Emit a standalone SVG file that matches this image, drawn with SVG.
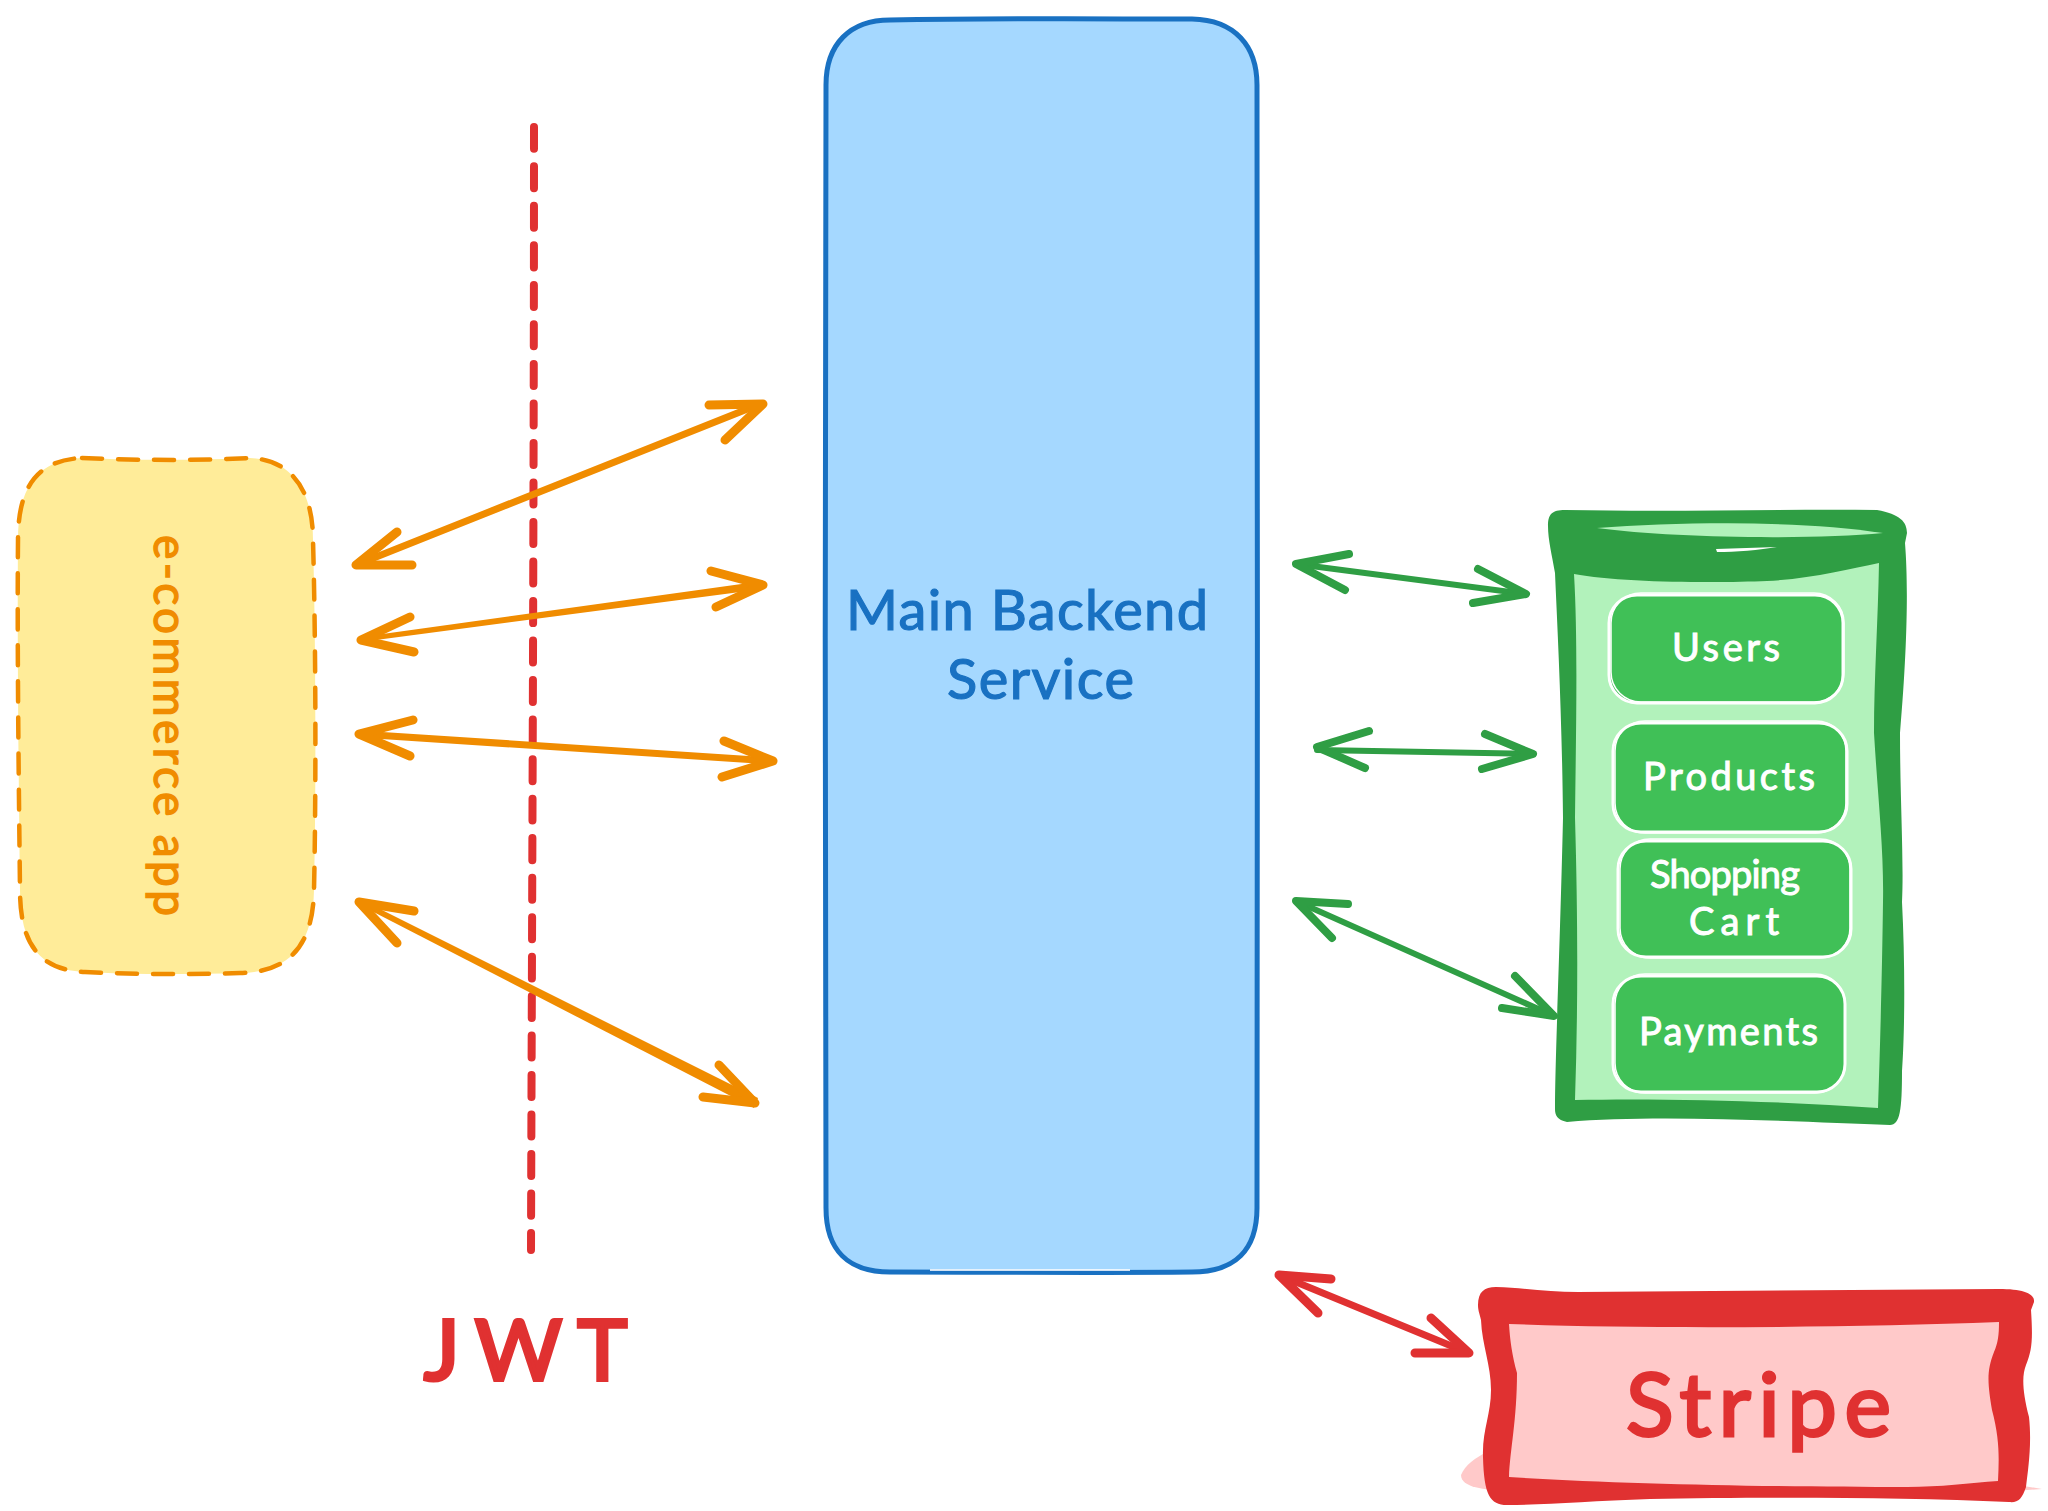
<svg xmlns="http://www.w3.org/2000/svg" width="2048" height="1511" viewBox="0 0 2048 1511">
<style>
text{font-family:"Lato","Open Sans",sans-serif;text-anchor:start}
.arrow{fill:none;stroke-linecap:round;stroke-linejoin:round}
.o{stroke:#f08c00;stroke-width:9}
.g{stroke:#2f9e44;stroke-width:8}
.r{stroke:#e03131;stroke-width:9}
.so{stroke-width:7}
.sg{stroke-width:6}
.item{fill:#40c057;stroke:#fff;stroke-width:3}
.sk{fill:none;stroke:#fff;stroke-width:1.5}
.it{fill:#fff;font-size:38px;stroke:#fff;stroke-width:1}
</style>
<g id="main-backend">
<path d="M890 20C1000 18 1100 19 1192 19C1235 20 1257 46 1257 85C1259 400 1256 900 1257 1208C1257 1250 1235 1272 1192 1272C1100 1273 980 1272 890 1272C848 1272 826 1250 826 1208C826 900 824 400 826 85C826 44 850 20 890 20Z" fill="#a5d8ff" stroke="#1971c2" stroke-width="5"/>
<path d="M930 1270H1130" stroke="#fff" stroke-width="2" fill="none" opacity=".8"/>
<text x="846" y="630" font-size="56" fill="#1971c2" stroke="#1971c2" stroke-width="1.2" textLength="362" lengthAdjust="spacing">Main Backend</text>
<text x="947" y="699" font-size="56" fill="#1971c2" stroke="#1971c2" stroke-width="1.2" textLength="187" lengthAdjust="spacing">Service</text>
</g>
<g id="ecommerce-app">
<path d="M82 458C150 461 210 460 250 458C295 460 313 495 313 540C316 650 316 800 314 890C313 945 290 972 240 973C180 975 120 974 85 972C40 970 20 945 20 890C19 800 17 650 18 540C18 490 35 460 82 458Z" fill="#ffec99" stroke="#f08c00" stroke-width="4.5" stroke-dasharray="20 16" stroke-linecap="round"/>
<text transform="translate(154 535) rotate(90)" font-size="46" fill="#f08c00" stroke="#f08c00" stroke-width="1.4" textLength="381" lengthAdjust="spacing">e-commerce app</text>
</g>
<g id="jwt-boundary">
<path d="M534 127C534 500 532 900 531 1250" fill="none" stroke="#e03131" stroke-width="8" stroke-dasharray="22 17.5" stroke-linecap="round"/>
<text x="424" y="1380" font-size="84" fill="#e03131" stroke="#e03131" stroke-width="4" textLength="203" lengthAdjust="spacing">JWT</text>
</g>
<g id="database">
<path d="M1548 526C1548 514 1552 510 1565 510C1680 512 1780 509 1877 510C1900 514 1907 522 1907 533L1905 543C1908 580 1908 640 1900 733C1900 800 1904 860 1902 902C1905 960 1905 1030 1902 1071C1902 1110 1900 1125 1890 1125C1800 1122 1660 1114 1567 1122C1557 1120 1555 1115 1555 1109C1555 1060 1560 950 1563 818C1562 720 1558 640 1555 573C1552 555 1548 540 1548 526Z" fill="#2f9e44"/>
<path d="M1574 574C1620 583 1720 583 1767 581C1810 579 1850 569 1879 563C1878 620 1874 680 1874 733C1878 800 1884 850 1883 902C1882 980 1880 1050 1878 1108C1780 1101 1660 1098 1575 1100C1578 1010 1578 920 1575 818C1576 730 1578 640 1574 574Z" fill="#b2f2bb"/>
<path d="M1597 528C1680 522 1800 520 1883 533C1810 540 1670 538 1597 528Z" fill="#b2f2bb"/>
<path d="M1716 549L1777 547C1760 550 1735 552 1717 552Z" fill="#fff"/>
<g id="users">
<rect class="item" x="1609" y="595" width="234" height="108" rx="28"/>
<rect class="sk" x="1611" y="593" width="233" height="109" rx="30"/>
<text class="it" x="1672" y="661" textLength="108" lengthAdjust="spacing">Users</text>
</g>
<g id="products">
<rect class="item" x="1613" y="723" width="234" height="109" rx="28"/>
<rect class="sk" x="1615" y="721" width="231" height="112" rx="30"/>
<text class="it" x="1643" y="790" textLength="172" lengthAdjust="spacing">Products</text>
</g>
<g id="shopping-cart">
<rect class="item" x="1618" y="841" width="233" height="116" rx="28"/>
<rect class="sk" x="1620" y="839" width="230" height="119" rx="30"/>
<text class="it" x="1650" y="888" textLength="150" lengthAdjust="spacing">Shopping</text>
<text class="it" x="1689" y="935" textLength="90" lengthAdjust="spacing">Cart</text>
</g>
<g id="payments">
<rect class="item" x="1613" y="976" width="232" height="116" rx="28"/>
<rect class="sk" x="1615" y="974" width="230" height="119" rx="30"/>
<text class="it" x="1639" y="1045" textLength="179" lengthAdjust="spacing">Payments</text>
</g>
</g>
<g id="stripe">
<path d="M1461 1475C1465 1465 1475 1458 1490 1450L1520 1490C1495 1491 1461 1490 1461 1475Z" fill="#ffc9c9"/>
<path d="M2000 1482L2042 1489L2000 1492Z" fill="#ffc9c9"/>
<path d="M1478 1305C1478 1292 1484 1287 1496 1287C1525 1288 1550 1292 1578 1292C1720 1291 1860 1290 1999 1289C2022 1289 2035 1293 2034 1302L2031 1310C2033 1340 2032 1350 2026 1365C2022 1375 2022 1390 2029 1417C2032 1445 2028 1470 2026 1487C2022 1499 2018 1503 2009 1502C1900 1497 1760 1497 1650 1499C1590 1501 1545 1505 1507 1505C1490 1505 1484 1495 1483 1457C1482 1430 1491 1415 1491 1390C1491 1365 1482 1345 1481 1320C1479 1312 1478 1310 1478 1305Z" fill="#e03131"/>
<path d="M1509 1324C1640 1329 1840 1328 1999 1322C1999 1335 1998 1343 1994 1352C1986 1372 1988 1385 1992 1410C2000 1440 1999 1460 1998 1481C1970 1483 1940 1487 1907 1487C1780 1487 1620 1484 1509 1477C1510 1450 1517 1420 1517 1373C1512 1355 1510 1340 1509 1324Z" fill="#ffc9c9"/>
<text x="1626" y="1436" font-size="88" fill="#e03131" stroke="#e03131" stroke-width="3" textLength="265" lengthAdjust="spacing">Stripe</text>
</g>
<g id="connectors">
<path class="arrow o so" d="M356 565L760 404"/>
<path class="arrow o" d="M397 532L356 565L412 565M709 405L763 404L725 440"/>
<path d="M361 637L763 581L763 589L361 642Z" fill="#f08c00"/>
<path class="arrow o" d="M410 617L361 640L414 652M711 571L763 585L716 607"/>
<path class="arrow o so" d="M359 734L772 761"/>
<path class="arrow o" d="M413 720L359 734L410 756M724 741L773 761L722 777"/>
<path d="M360 899L758 1098L754 1108L358 904Z" fill="#f08c00"/>
<path class="arrow o" d="M414 911L359 902L397 943M719 1065L755 1103L703 1097"/>
<path class="arrow g sg" d="M1296 564L1526 594"/>
<path class="arrow g" d="M1349 554L1296 564L1345 590M1478 569L1526 594L1473 603"/>
<path class="arrow g sg" d="M1317 750L1533 754"/>
<path class="arrow g" d="M1369 731L1317 747L1365 768M1485 734L1533 754L1482 769"/>
<path class="arrow g sg" d="M1296 901L1554 1016"/>
<path class="arrow g" d="M1348 904L1296 901L1332 938M1515 976L1554 1016L1502 1008"/>
<path class="arrow r so" d="M1279 1275L1466 1352"/>
<path class="arrow r" d="M1331 1279L1279 1275L1318 1313M1431 1318L1469 1353L1415 1353"/>
</g>
</svg>
